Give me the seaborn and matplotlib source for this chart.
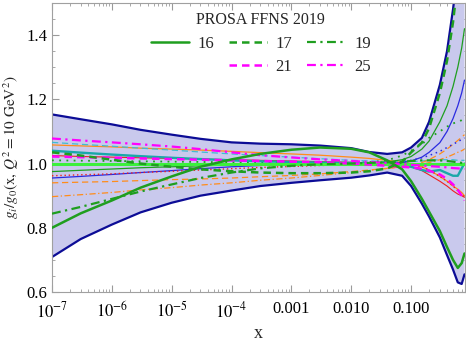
import numpy as np
import pandas as pd
import seaborn as sns
import matplotlib
matplotlib.use("Agg")
import matplotlib.pyplot as plt
from matplotlib.lines import Line2D
from matplotlib.ticker import FixedLocator, FixedFormatter, LogLocator, MultipleLocator, NullFormatter

# x grid (log10 x) shared by all curves
LOGX = [-7, -6.52, -6, -5.52, -5, -4.52, -4, -3.52, -3, -2.52, -2, -1.7, -1.4, -1.15,
        -1, -0.82, -0.7, -0.52, -0.4, -0.3, -0.22, -0.155, -0.108]

# uncertainty band
band_hi = [1.153, 1.138, 1.122, 1.105, 1.09, 1.077, 1.066, 1.062, 1.060, 1.056, 1.048, 1.036,
           1.030, 1.035, 1.050, 1.08, 1.13, 1.245, 1.35, 1.48, 1.6, 1.8, 2.0]
band_lo = [0.709, 0.765, 0.81, 0.848, 0.878, 0.90, 0.916, 0.93, 0.94, 0.948, 0.956, 0.963,
           0.972, 0.962, 0.93, 0.875, 0.835, 0.77, 0.715, 0.67, 0.63, 0.625, 0.655]

# legend members
g16 = [0.80, 0.845, 0.885, 0.925, 0.96, 0.99, 1.013, 1.03, 1.043, 1.05, 1.046, 1.035,
       1.01, 0.982, 0.945, 0.89, 0.85, 0.79, 0.74, 0.70, 0.675, 0.69, 0.72]
g17 = [1.035, 1.025, 1.012, 1.0, 0.99, 0.982, 0.976, 0.972, 0.97, 0.97, 0.972, 0.976,
       0.985, 1.005, 1.035, 1.065, 1.11, 1.22, 1.32, 1.44, 1.57, 1.75, 1.95]
g19 = [0.844, 0.865, 0.89, 0.913, 0.935, 0.955, 0.972, 0.985, 0.993, 0.998, 1.0, 1.002,
       1.004, 1.006, 1.008, 1.01, 1.01, 1.01, 1.008, 1.006, 1.004, 1.002, 1.0]
g21 = [1.022, 1.02, 1.018, 1.016, 1.014, 1.012, 1.01, 1.008, 1.006, 1.004, 1.0, 0.997,
       0.993, 0.99, 0.988, 0.984, 0.978, 0.966, 0.952, 0.935, 0.918, 0.9, 0.885]
g25 = [1.078, 1.072, 1.066, 1.06, 1.053, 1.045, 1.035, 1.026, 1.019, 1.013, 1.008, 1.005,
       1.002, 0.998, 0.996, 0.994, 0.992, 0.99, 0.988, 0.986, 0.985, 0.984, 0.983]

# other eigenvector members (not in legend)
orange_solid = [1.058, 1.055, 1.052, 1.048, 1.045, 1.042, 1.038, 1.034, 1.03, 1.026, 1.02, 1.016,
                1.01, 1.004, 1.0, 0.99, 0.98, 0.96, 0.945, 0.93, 0.92, 0.91, 0.9]
cyan_dashed = [1.066, 1.06, 1.054, 1.048, 1.042, 1.036, 1.03, 1.025, 1.02, 1.015, 1.01, 1.008,
               1.006, 1.006, 1.006, 1.008, 1.01, 1.012, 1.012, 1.012, 1.01, 1.01, 1.01]
teal_solid = [1.04, 1.034, 1.028, 1.023, 1.018, 1.014, 1.01, 1.007, 1.005, 1.003, 1.002, 1.0,
              0.998, 0.994, 0.99, 0.98, 0.975, 0.98, 0.97, 0.962, 0.962, 0.985, 1.0]
blue_solid = [0.955, 0.96, 0.966, 0.972, 0.978, 0.984, 0.99, 0.994, 0.997, 0.999, 1.0, 1.0,
              1.001, 1.003, 1.008, 1.02, 1.035, 1.065, 1.1, 1.14, 1.18, 1.22, 1.26]
green_thin = [0.975, 0.979, 0.983, 0.987, 0.99, 0.993, 0.995, 0.997, 0.998, 0.999, 1.0, 1.002,
              1.005, 1.012, 1.022, 1.045, 1.07, 1.13, 1.18, 1.24, 1.3, 1.36, 1.42]
orange_dashed = [0.94, 0.942, 0.944, 0.947, 0.95, 0.952, 0.955, 0.959, 0.963, 0.968, 0.975, 0.98,
                 0.985, 0.99, 0.995, 1.003, 1.012, 1.03, 1.045, 1.06, 1.072, 1.082, 1.09]
orange_dashdot = [0.897, 0.903, 0.91, 0.918, 0.925, 0.933, 0.94, 0.948, 0.955, 0.963, 0.972, 0.978,
                  0.985, 0.99, 0.993, 0.998, 1.003, 1.012, 1.02, 1.028, 1.035, 1.04, 1.045]
red_dotted = [0.962, 0.965, 0.968, 0.972, 0.976, 0.98, 0.984, 0.988, 0.991, 0.994, 0.997, 0.999,
              1.0, 1.0, 0.998, 0.99, 0.98, 0.96, 0.945, 0.93, 0.915, 0.905, 0.895]
red_solid = [1.025, 1.022, 1.02, 1.018, 1.016, 1.014, 1.012, 1.01, 1.008, 1.006, 1.004, 1.002,
             1.0, 0.996, 0.99, 0.978, 0.965, 0.945, 0.93, 0.915, 0.905, 0.9, 0.895]
blue_dotted = [0.995, 0.995, 0.996, 0.996, 0.997, 0.997, 0.998, 0.998, 0.999, 0.999, 1.0, 1.0,
               1.002, 1.005, 1.01, 1.018, 1.025, 1.038, 1.05, 1.06, 1.068, 1.075, 1.08]
green_dotted = [1.01, 1.009, 1.008, 1.007, 1.006, 1.005, 1.004, 1.003, 1.002, 1.002, 1.002, 1.004,
                1.01, 1.025, 1.04, 1.06, 1.08, 1.1, 1.115, 1.125, 1.13, 1.135, 1.14]
central = [1.0, 1.0]

GREEN = "#1f9e1f"
MAG = "#ff00ff"
NAVY = "#0c0c96"
ORANGE = "#ff8c1a"
TEAL = "#19a8a8"
CYAN = "#40bcd0"
BLUE = "#2a2ae0"
RED = "#ee2020"
LIME = "#3cf03c"

sns.set_theme(style="ticks")
plt.rcParams["font.family"] = ["Liberation Serif", "DejaVu Serif"]
plt.rcParams["mathtext.fontset"] = "stix"

x = 10.0 ** np.array(LOGX)

fig = plt.figure(figsize=(4.66, 3.45), dpi=100)
ax = fig.add_axes([0.1116, 0.1536, 0.8866, 0.8377])

ax.fill_between(x, band_lo, band_hi, color="#c9c9ed", lw=0, zorder=1)

def curve(y, color, lw, ls="-", xs=None, z=3):
    xs = x if xs is None else xs
    df = pd.DataFrame({"x": xs, "y": y})
    sns.lineplot(data=df, x="x", y="y", ax=ax, color=color, lw=lw, ls=ls,
                 sort=False, estimator=None, zorder=z)

# band edges
curve(band_hi, NAVY, 1.6, z=2)
curve(band_lo, NAVY, 1.6, z=2)

# thin members
curve(orange_solid, ORANGE, 0.9)
curve(cyan_dashed, CYAN, 0.9, (0, (5, 3)))
curve(blue_solid, BLUE, 0.9)
curve(green_thin, GREEN, 0.9)
curve(orange_dashed, ORANGE, 0.9, (0, (5, 3)))
curve(orange_dashdot, ORANGE, 0.9, (0, (5, 2, 1, 2)))
curve(red_dotted, RED, 1.0, (0, (1, 2)))
curve(red_solid, RED, 0.8)
curve(blue_dotted, BLUE, 1.1, (0, (1, 2.5)))
curve(green_dotted, GREEN, 1.3, (0, (1, 3)))
curve(teal_solid, TEAL, 1.7)
curve(central, LIME, 2.2, xs=[1e-7, 0.8], z=4)

# legend members
curve(g25, MAG, 1.6, (0, (4, 2, 1, 2)), z=5)
curve(g21, MAG, 1.8, (0, (3, 2)), z=5)
curve(g19, GREEN, 1.6, (0, (4, 2, 1, 2)), z=5)
curve(g17, GREEN, 1.8, (0, (3, 2)), z=5)
curve(g16, GREEN, 1.8, z=6)

ax.set_xscale("log")
ax.set_xlim(1e-7, 0.8)
ax.set_ylim(0.6, 1.5)

ax.xaxis.set_major_locator(FixedLocator([1e-7, 1e-6, 1e-5, 1e-4, 1e-3, 1e-2, 1e-1]))
ax.xaxis.set_major_formatter(FixedFormatter([r"$10^{-7}$", r"$10^{-6}$", r"$10^{-5}$",
                                             r"$10^{-4}$", "0.001", "0.010", "0.100"]))
ax.xaxis.set_minor_locator(LogLocator(base=10, subs=np.arange(2, 10), numticks=20))
ax.xaxis.set_minor_formatter(NullFormatter())
ax.yaxis.set_major_locator(FixedLocator([0.6, 0.8, 1.0, 1.2, 1.4]))
ax.yaxis.set_major_formatter(FixedFormatter(["0.6", "0.8", "1.0", "1.2", "1.4"]))
ax.yaxis.set_minor_locator(MultipleLocator(0.05))

ax.tick_params(which="both", direction="in", top=True, right=True, colors="#9a9a9a",
               labelcolor="black", labelsize=12)
ax.tick_params(axis="x", which="major", pad=6.5)
ax.tick_params(which="major", length=5, width=0.8)
ax.tick_params(which="minor", length=2.5, width=0.6)
for s in ax.spines.values():
    s.set_color("#a0a0a0")
    s.set_linewidth(0.8)

ax.set_xlabel("x", fontsize=13, labelpad=3)
ax.set_ylabel(r"$g_i/g_0(\mathrm{x},\,Q^2=10\ \mathrm{GeV}^2)$", fontsize=11, labelpad=4)

# legend: 16 | 17 | 19 on first row, blank | 21 | 25 on second
blank = Line2D([], [], lw=0)
hs = [Line2D([], [], color=GREEN, lw=1.8),
      blank,
      Line2D([], [], color=GREEN, lw=1.8, ls=(0, (3, 2))),
      Line2D([], [], color=MAG, lw=1.8, ls=(0, (3, 2))),
      Line2D([], [], color=GREEN, lw=1.6, ls=(0, (4, 2, 1, 2))),
      Line2D([], [], color=MAG, lw=1.6, ls=(0, (4, 2, 1, 2)))]
ls_ = ["16", "", "17", "21", "19", "25"]
leg = ax.legend(hs, ls_, ncols=3, loc="upper center", bbox_to_anchor=(0.505, 1.02),
                frameon=False, title="PROSA FFNS 2019", fontsize=12, title_fontsize=11.5,
                handlelength=2.3, columnspacing=0.9, handletextpad=0.5, labelspacing=0.45)
leg.set_zorder(10)

fig.savefig("out.png", dpi=100)
